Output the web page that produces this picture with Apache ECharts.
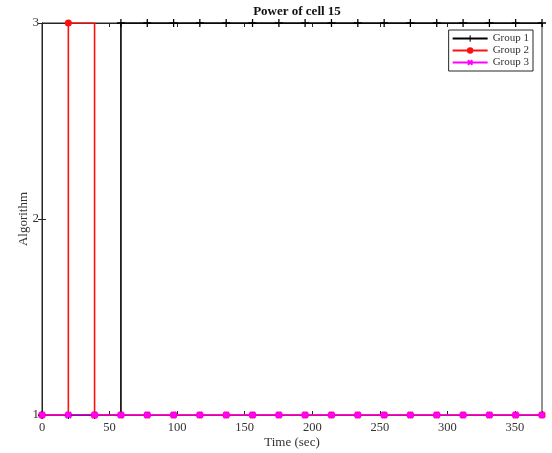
<!DOCTYPE html>
<html><head><meta charset="utf-8">
<script src="https://cdn.jsdelivr.net/npm/echarts@6/dist/echarts.min.js"></script>
<style>html,body{margin:0;padding:0;background:#fff}#c{width:552px;height:453px}</style>
</head><body><div id="c"></div>
<script>
const times = [0, 19.5, 38.9, 58.4, 77.9, 97.4, 116.8, 136.3, 155.8, 175.3, 194.7, 214.2, 233.7, 253.2, 272.6, 292.1, 311.6, 331.1, 350.5, 370];
const group1 = [1, 1, 1, 3, 3, 3, 3, 3, 3, 3, 3, 3, 3, 3, 3, 3, 3, 3, 3, 3];
const group2 = [1, 3, 1, 1, 1, 1, 1, 1, 1, 1, 1, 1, 1, 1, 1, 1, 1, 1, 1, 1];
const group3 = [1, 1, 1, 1, 1, 1, 1, 1, 1, 1, 1, 1, 1, 1, 1, 1, 1, 1, 1, 1];
const seriesNames = ['Group 1', 'Group 2', 'Group 3'];
const xTicks = [0, 50, 100, 150, 200, 250, 300, 350];
const yTicks = [1, 2, 3];

const font = 'Liberation Serif';
const pair = (ys) => times.map((t, i) => [t, ys[i]]);
const plus = 'path://M4.2,0 H5.8 V4.2 H10 V5.8 H5.8 V10 H4.2 V5.8 H0 V4.2 H4.2 Z';
const cross = 'path://M3.3,0 H6.7 V3.3 H10 V6.7 H6.7 V10 H3.3 V6.7 H0 V3.3 H3.3 Z';
const chart = echarts.init(document.getElementById('c'));
const axisCommon = {
  axisLine: {show: true, lineStyle: {color: '#262626', width: 1}},
  splitLine: {show: false}
};
const tick = {show: true, inside: true, length: 4, lineStyle: {color: '#262626'}};
chart.setOption({
  animation: false,
  backgroundColor: '#fff',
  title: {text: 'Power of cell 15', left: 292, textAlign: 'center', top: 0,
    textStyle: {fontFamily: font, fontSize: 13, fontWeight: 'bold', color: '#111'}},
  grid: {left: 42, right: 10, top: 23, bottom: 38, show: true, borderColor: '#262626', borderWidth: 1,
    containLabel: false, outerBoundsMode: 'none'},
  legend: {
    orient: 'vertical', right: 19, top: 30, itemWidth: 35, itemHeight: 8, itemGap: 1,
    padding: [3, 4, 3, 3], borderColor: '#262626', borderWidth: 1, backgroundColor: '#fff',
    textStyle: {fontFamily: font, fontSize: 11, color: '#333', lineHeight: 10},
    data: seriesNames
  },
  xAxis: [
    Object.assign({type: 'value', min: 0, max: 370, interval: 50, position: 'bottom',
      name: 'Time (sec)', nameLocation: 'middle', nameGap: 21.5, nameMoveOverlap: false,
      nameTextStyle: {fontFamily: font, fontSize: 13, color: '#333'},
      axisTick: tick,
      axisLabel: {fontFamily: font, fontSize: 12.5, color: '#333', margin: 6,
        formatter: v => xTicks.includes(v) ? String(v) : ''}}, axisCommon),
    Object.assign({type: 'value', min: 0, max: 370, interval: 50, position: 'top',
      axisTick: tick, axisLabel: {show: false}}, axisCommon)
  ],
  yAxis: [
    Object.assign({type: 'value', min: 1, max: 3, interval: 1, position: 'left',
      name: 'Algorithm', nameLocation: 'middle', nameGap: 11.5, nameMoveOverlap: false,
      nameTextStyle: {fontFamily: font, fontSize: 13, color: '#333'},
      axisTick: tick,
      axisLabel: {fontFamily: font, fontSize: 13, color: '#333', margin: 3,
        formatter: v => yTicks.includes(v) ? String(v) : ''}}, axisCommon),
    Object.assign({type: 'value', min: 1, max: 3, interval: 1, position: 'right',
      axisTick: tick, axisLabel: {show: false}}, axisCommon)
  ],
  series: [
    {name: seriesNames[0], type: 'line', step: 'end', data: pair(group1),
      color: '#000', lineStyle: {color: '#000', width: 1.6},
      symbol: plus, symbolSize: 8, showAllSymbol: true,
      itemStyle: {color: '#000'}, z: 2},
    {name: seriesNames[1], type: 'line', step: 'end', data: pair(group2),
      color: '#ff1010', lineStyle: {color: '#ff1010', width: 1.6},
      symbol: 'circle', symbolSize: 7, showAllSymbol: true,
      itemStyle: {color: '#ff1010'}, z: 3},
    {name: seriesNames[2], type: 'line', step: 'end', data: pair(group3),
      color: '#ff00ff', lineStyle: {color: '#ff00ff', width: 1.6},
      symbol: cross, symbolRotate: 45, symbolSize: 8, showAllSymbol: true,
      itemStyle: {color: '#ff00ff'}, z: 4}
  ]
});
</script></body></html>
